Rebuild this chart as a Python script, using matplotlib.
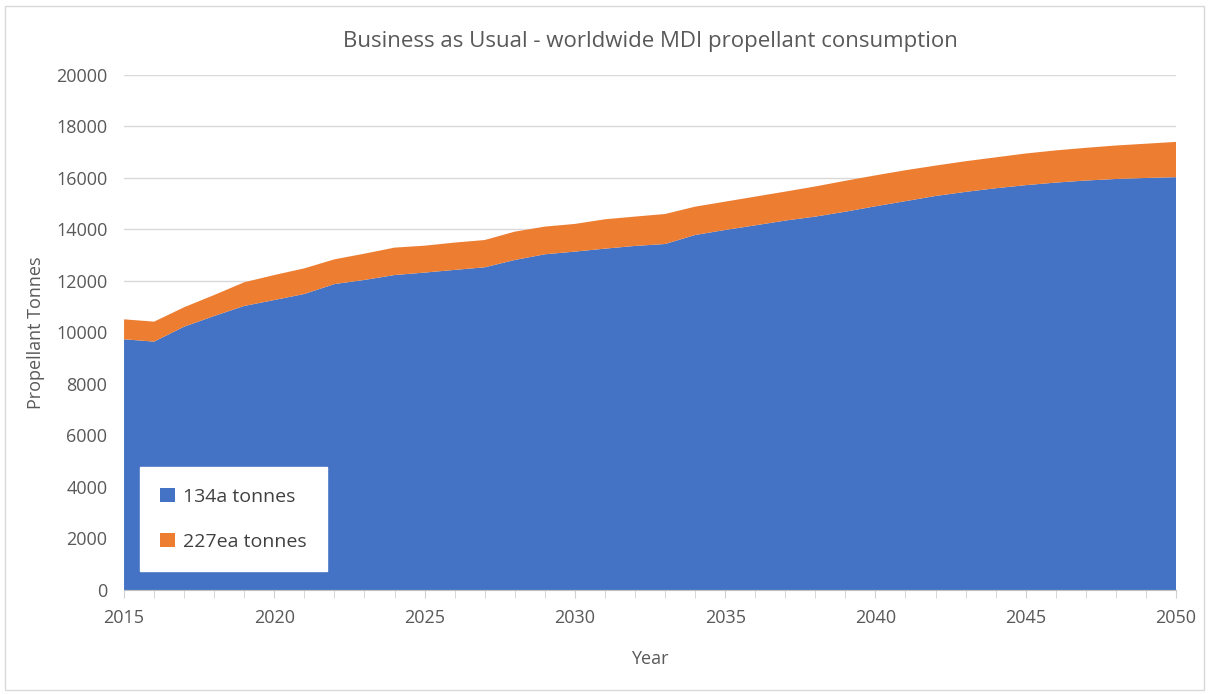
import matplotlib.pyplot as plt
from matplotlib.patches import Rectangle
import numpy as np

# values
years = np.arange(2015, 2051)
tonnes_134a = [9735, 9645, 10225, 10640, 11030, 11260, 11495, 11880, 12040, 12230,
               12325, 12430, 12530, 12815, 13035, 13140, 13255, 13360, 13435, 13785,
               13980, 14160, 14345, 14500, 14690, 14900, 15100, 15300, 15460, 15600,
               15720, 15820, 15900, 15960, 16000, 16030]
total = [10510, 10420, 10980, 11455, 11950, 12230, 12490, 12840, 13060, 13295,
         13370, 13490, 13590, 13915, 14110, 14215, 14395, 14500, 14600, 14885,
         15080, 15275, 15470, 15670, 15890, 16100, 16300, 16480, 16650, 16800,
         16950, 17070, 17170, 17260, 17330, 17400]
tonnes_227ea = [t - b for t, b in zip(total, tonnes_134a)]
labels = ["134a tonnes", "227ea tonnes"]
colors = ["#4472C4", "#ED7D31"]

plt.rcParams['font.family'] = ['Open Sans', 'DejaVu Sans']

fig = plt.figure(figsize=(12.09, 6.94), dpi=100)
ax = fig.add_axes([0.1026, 0.1499, 0.8701, 0.7421])

ax.stackplot(years, tonnes_134a, tonnes_227ea, labels=labels, colors=colors, linewidth=0)

ax.set_xlim(2015, 2050)
ax.set_ylim(0, 20000)
ax.set_yticks(np.arange(0, 20001, 2000))
ax.set_xticks(np.arange(2015, 2051, 5))
ax.set_xticks(years, minor=True)
ax.grid(axis='y', color='#d9d9d9', linewidth=1)
ax.set_axisbelow(True)

for s in ['top', 'right', 'left']:
    ax.spines[s].set_visible(False)
ax.spines['bottom'].set_color('#bfbfbf')
ax.tick_params(axis='y', length=0, labelsize=13, labelcolor='#595959', pad=12)
ax.tick_params(axis='x', which='both', length=6, color='#d0d0d0', labelsize=13,
               labelcolor='#595959', pad=8)

ax.set_title("Business as Usual - worldwide MDI propellant consumption",
             fontsize=16, color='#595959', pad=20)
ax.set_xlabel("Year", fontsize=13, color='#595959', labelpad=16)
ax.set_ylabel("Propellant Tonnes", fontsize=13, color='#595959', labelpad=8)

leg = ax.legend(loc='lower left', bbox_to_anchor=(0.006, 0.017), fontsize=14,
                frameon=True, fancybox=False, edgecolor='white', framealpha=1,
                labelspacing=1.4, handlelength=0.75, handleheight=0.75,
                borderpad=1.05, handletextpad=0.4)
for t in leg.get_texts():
    t.set_color('#404040')

# light chart frame
fig.patches.append(Rectangle((0.004, 0.006), 0.992, 0.985, transform=fig.transFigure,
                             fill=False, edgecolor='#d9d9d9', linewidth=1))

fig.savefig("out.png", dpi=100)
